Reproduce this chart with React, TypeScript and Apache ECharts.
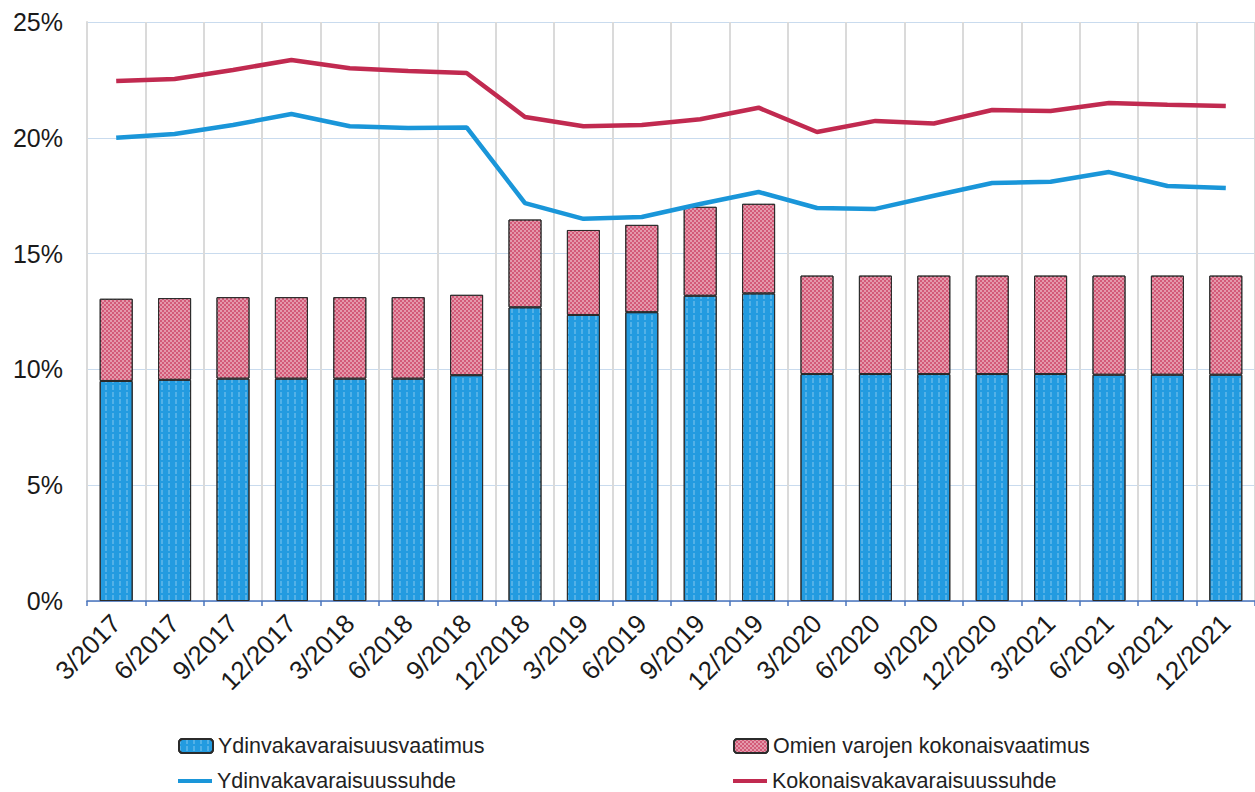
import React, { useEffect, useRef } from "react";
import * as echarts from "echarts";

const categories = [
  "3/2017", "6/2017", "9/2017", "12/2017",
  "3/2018", "6/2018", "9/2018", "12/2018",
  "3/2019", "6/2019", "9/2019", "12/2019",
  "3/2020", "6/2020", "9/2020", "12/2020",
  "3/2021", "6/2021", "9/2021", "12/2021",
];

// Core capital requirement (%)
const coreRequirement = [
  9.5, 9.55, 9.6, 9.6, 9.6, 9.6, 9.75, 12.68, 12.35, 12.47, 13.18, 13.28,
  9.8, 9.8, 9.8, 9.8, 9.8, 9.77, 9.77, 9.77,
];
// Total own funds requirement (%), stacked on top of the core requirement
const totalRequirement = [
  13.05, 13.08, 13.12, 13.12, 13.12, 13.12, 13.22, 16.47, 16.02, 16.24, 17.02, 17.15,
  14.05, 14.05, 14.05, 14.05, 14.05, 14.05, 14.05, 14.05,
];
const ownFundsAddOn = totalRequirement.map((t, i) => +(t - coreRequirement[i]).toFixed(2));

// Core (CET1) capital ratio (%)
const coreRatio = [
  20.0, 20.16, 20.55, 21.03, 20.5, 20.42, 20.45, 17.18, 16.5, 16.58, 17.14, 17.66,
  16.97, 16.93, 17.5, 18.05, 18.1, 18.52, 17.92, 17.83,
];
// Total capital ratio (%)
const totalRatio = [
  22.45, 22.54, 22.93, 23.36, 23.0, 22.88, 22.8, 20.9, 20.5, 20.55, 20.8, 21.3,
  20.25, 20.73, 20.62, 21.2, 21.16, 21.5, 21.43, 21.37,
];

const yTicks = { min: 0, max: 25, interval: 5 };

const NAME_CORE_REQ = "Ydinvakavaraisuusvaatimus";
const NAME_OWN_REQ = "Omien varojen kokonaisvaatimus";
const NAME_CORE_RATIO = "Ydinvakavaraisuussuhde";
const NAME_TOTAL_RATIO = "Kokonaisvakavaraisuussuhde";

const FONT = "'Liberation Sans', Arial, sans-serif";

export default function App() {
  const ref = useRef<HTMLDivElement>(null);

  useEffect(() => {
    document.body.style.margin = "0";
    if (!ref.current) return;
    const chart = echarts.init(ref.current, undefined, { renderer: "svg" });

    const legendText = { fontFamily: FONT, fontSize: 21.5, color: "#222", lineHeight: 20 };
    const mkLegend = (name: string, left: number, top: number, h: number, icon?: string) => ({
      data: [icon ? { name, icon } : name],
      left,
      top,
      itemWidth: 34,
      itemHeight: h,
      textStyle: legendText,
      selectedMode: false,
      padding: 0,
    });

    chart.setOption({
      animation: false,
      backgroundColor: "#ffffff",
      textStyle: { fontFamily: FONT },
      grid: { left: 87, right: 0, top: 22, bottom: 191, containLabel: false },
      legend: [
        mkLegend(NAME_CORE_REQ, 178, 735, 14),
        mkLegend(NAME_OWN_REQ, 733, 735, 14),
        mkLegend(NAME_CORE_RATIO, 178, 770, 4, "rect"),
        mkLegend(NAME_TOTAL_RATIO, 733, 770, 4, "rect"),
      ],
      xAxis: {
        type: "category",
        data: categories,
        boundaryGap: true,
        axisLine: { show: true, lineStyle: { color: "#4a74bd", width: 1.5 } },
        axisTick: { show: true, alignWithLabel: false, length: 5, lineStyle: { color: "#4a74bd", width: 1.5 } },
        axisLabel: {
          rotate: 45,
          interval: 0,
          margin: 18,
          fontFamily: FONT,
          fontSize: 26,
          color: "#1a1a1a",
        },
        splitLine: { show: true, interval: 0, lineStyle: { color: "#dadada", width: 2 } },
      },
      yAxis: {
        type: "value",
        min: yTicks.min,
        max: yTicks.max,
        interval: yTicks.interval,
        axisLine: { show: true, lineStyle: { color: "#dadada", width: 2 } },
        axisTick: { show: false },
        axisLabel: {
          formatter: "{value}%",
          margin: 24,
          fontFamily: FONT,
          fontSize: 25,
          color: "#1a1a1a",
        },
        splitLine: { show: true, lineStyle: { color: "#c9dbee", width: 1 } },
      },
      series: [
        {
          name: NAME_CORE_REQ,
          type: "bar",
          stack: "req",
          barWidth: 33,
          data: coreRequirement,
          itemStyle: {
            color: "#239be0",
            borderColor: "#2b2b2b",
            borderWidth: 1,
            decal: {
              symbol: "rect",
              symbolSize: 1,
              color: "rgba(255,255,255,0.22)",
              dashArrayX: [2, 5],
              dashArrayY: [5, 2],
            },
          },
          z: 2,
        },
        {
          name: NAME_OWN_REQ,
          type: "bar",
          stack: "req",
          barWidth: 33,
          data: ownFundsAddOn,
          itemStyle: {
            color: "#d35a78",
            borderColor: "#2b2b2b",
            borderWidth: 1,
            decal: {
              symbol: "rect",
              symbolSize: 1,
              color: "rgba(255,255,255,0.38)",
              dashArrayX: [[2, 2], [0, 2, 2, 0]],
              dashArrayY: [2, 0],
            },
          },
          z: 2,
        },
        {
          name: NAME_CORE_RATIO,
          type: "line",
          data: coreRatio,
          symbol: "none",
          lineStyle: { color: "#1a96d9", width: 4.5 },
          itemStyle: { color: "#1a96d9" },
          z: 3,
        },
        {
          name: NAME_TOTAL_RATIO,
          type: "line",
          data: totalRatio,
          symbol: "none",
          lineStyle: { color: "#c12a50", width: 4.5 },
          itemStyle: { color: "#c12a50" },
          z: 3,
        },
      ],
    });

    return () => chart.dispose();
  }, []);

  return <div ref={ref} style={{ width: 1255, height: 792 }} />;
}
